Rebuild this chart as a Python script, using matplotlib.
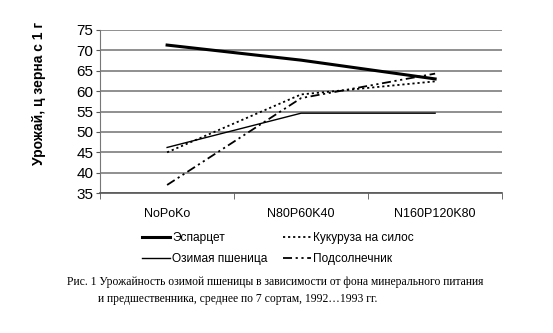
import matplotlib

matplotlib.use("Agg")
import matplotlib.pyplot as plt

categories = ["NoPoKo", "N80P60K40", "N160P120K80"]
esparcet = [71.3, 67.6, 63.0]
winter_wheat = [46.2, 54.6, 54.6]
corn_silage = [45.0, 59.2, 62.4]
sunflower = [37.0, 58.3, 64.3]
y_ticks = [35, 40, 45, 50, 55, 60, 65, 70, 75]

plt.rcParams["font.family"] = ["Liberation Sans", "DejaVu Sans"]

fig = plt.figure(figsize=(5.53, 3.33), dpi=100)
ax = fig.add_axes([0.181, 0.420, 0.727, 0.490])

x = list(range(len(categories)))
h1, = ax.plot(x, esparcet, color="black", lw=2.2, label="Эспарцет")
h2, = ax.plot(x, winter_wheat, color="black", lw=1.0, label="Озимая пшеница")
h3, = ax.plot(x, corn_silage, color="black", lw=1.3, ls=(0, (1.2, 1.6)),
              label="Кукуруза на силос")
h4, = ax.plot(x, sunflower, color="black", lw=1.3,
              ls=(0, (5, 2, 1.2, 2, 1.2, 2)), label="Подсолнечник")

ax.set_xlim(-0.5, 2.5)
ax.set_ylim(35, 75)
ax.set_yticks(y_ticks)
ax.set_xticks(x)
ax.set_xticklabels(categories)
ax.set_xticks([-0.5, 0.5, 1.5, 2.5], minor=True)
ax.tick_params(axis="x", which="major", length=0, pad=11, labelsize=9)
ax.tick_params(axis="x", which="minor", length=4, color="#555555")
ax.tick_params(axis="y", length=3, labelsize=11, pad=2, color="#555555")
ax.grid(axis="y", color="#8f8f8f", lw=1.4)
ax.set_axisbelow(True)
for s in ["top", "right"]:
    ax.spines[s].set_visible(False)
ax.spines["left"].set_color("#777777")
ax.spines["bottom"].set_color("#555555")
ax.spines["bottom"].set_linewidth(1.2)

ax.set_ylabel("Урожай, ц зерна с 1 г", fontsize=10, fontweight="bold")
ax.yaxis.set_label_coords(-0.135, 0.61)

fig.legend(handles=[h1, h2, h3, h4], ncol=2, frameon=False, fontsize=8.6,
           loc="center", bbox_to_anchor=(0.503, 0.253), handlelength=2.3,
           handletextpad=0.2, columnspacing=1.3, labelspacing=0.75)

cap = ("Рис. 1 Урожайность озимой пшеницы в зависимости от фона минерального питания")
fig.text(0.497, 0.153, cap, ha="center", va="center", fontsize=8.4,
         family="Liberation Serif")
fig.text(0.177, 0.102, "и предшественника, среднее по 7 сортам, 1992…1993 гг.",
         ha="left", va="center", fontsize=8.4, family="Liberation Serif")

fig.savefig("out.png", dpi=100)
